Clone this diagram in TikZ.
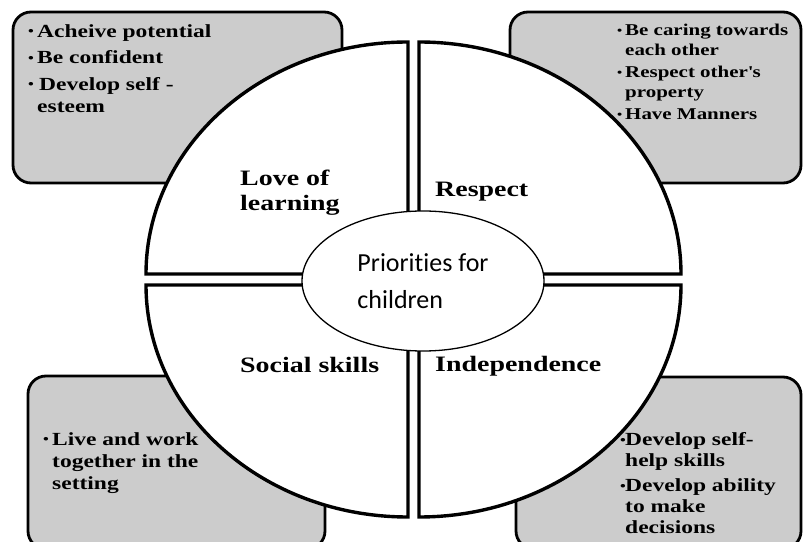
\documentclass[tikz,border=0pt]{standalone}
\usepackage{fontspec}
\usepackage{graphicx}
\usetikzlibrary{shapes.geometric}
\definecolor{boxgray}{HTML}{CCCCCC}
\newfontfamily\wordserif[FakeStretch=1.27]{Liberation Serif}
\newfontfamily\wordsans[Ligatures={NoCommon,NoContextual},Contextuals=NoAlternate]{Carlito}
\newcommand{\pbul}[1][9pt]{\makebox[#1][l]{\raisebox{1.2pt}{\scalebox{0.7}{\textbullet}}}}
\newcommand{\pind}[1][9pt]{\hspace*{#1}}

\begin{document}
\begin{tikzpicture}[
  x=1pt, y=1pt,
  pbox/.style={draw, fill=boxgray, line width=2.8pt, rounded corners=18pt,
               inner sep=0pt, outer sep=0pt},
  quad/.style={draw, fill=white, line width=3.4pt},
  head/.style={inner sep=0pt, anchor=base west,
               font=\wordserif\bfseries\fontsize{22}{25}\selectfont},
  pts/.style={inner sep=0pt, anchor=north west, align=left,
              font=\wordserif\bfseries\fontsize{18.5}{22}\selectfont},
  prio/.style={ellipse, draw, fill=white, line width=1.3pt, inner sep=0pt,
               minimum width=242pt, minimum height=140pt, align=left,
               font=\wordsans\fontsize{26}{37}\selectfont}
]
\useasboundingbox (0,0) rectangle (803,541);

% grey boxes behind the circle
\node[pbox, minimum width=329pt, minimum height=171pt] (tlbox) at (177.5,443.5) {};
\node[pbox, minimum width=291pt, minimum height=171pt] (trbox) at (655.5,443.5) {};
\node[pbox, minimum width=297pt, minimum height=173pt] (blbox) at (176.5,78.5) {};
\node[pbox, minimum width=285pt, minimum height=172pt] (brbox) at (658.5,78) {};

% the four quarters
\draw[quad] (408,267) -- (146,267) arc[start angle=180, end angle=90, x radius=262, y radius=232] -- cycle;
\draw[quad] (419,267) -- (419,499) arc[start angle=90, end angle=0, x radius=262, y radius=232] -- cycle;
\draw[quad] (408,256) -- (146,256) arc[start angle=180, end angle=270, x radius=262, y radius=232] -- cycle;
\draw[quad] (419,256) -- (681,256) arc[start angle=0, end angle=-90, x radius=262, y radius=232] -- cycle;

\node[head, anchor=north west, align=left] (love) at (240,371) {Love of\\learning};
\node[head] (respect) at (435,344) {Respect};
\node[head] (social) at (240,168) {Social skills};
\node[head] (indep) at (435,169) {Independence};

% centre
\node[prio] (prio) at (423,260) {Priorities for\\children};

% points in the boxes
\node[pts] (tlpts) at (28,517) {\pbul Acheive potential\\[4.5pt]
  \pbul Be confident\\[4.5pt]
  \pbul\hspace{2pt}Develop self -\\ \pind esteem};
\node[pts, font=\wordserif\bfseries\fontsize{16.5}{20}\selectfont] (trpts) at (617,517)
  {\pbul[8pt]Be caring towards\\ \pind[8pt]each other\\[2pt]
  \pbul[8pt]Respect other\textquotesingle s\\ \pind[8pt]property\\[2pt]
  \pbul[8pt]Have Manners};
\node[pts] (blpts) at (43,109) {\pbul Live and work\\ \pind together in the\\ \pind setting};
\node[pts, font=\wordserif\bfseries\fontsize{18.5}{21}\selectfont] (brpts) at (620,109)
  {\pbul[5pt]Develop self-\\ \pind[5pt]help skills\\[4pt]
  \pbul[5pt]Develop ability\\ \pind[5pt]to make\\ \pind[5pt]decisions};
\end{tikzpicture}
\end{document}
